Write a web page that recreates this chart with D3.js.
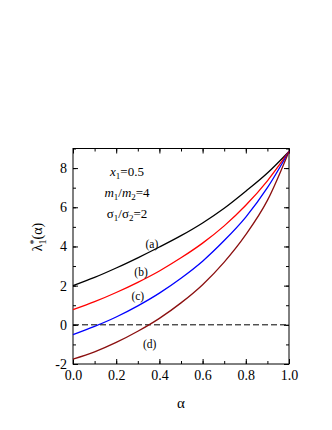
<!DOCTYPE html>
<html>
<head>
<meta charset="utf-8">
<script src="https://cdn.jsdelivr.net/npm/d3@7"></script>
<style>
  body { margin: 0; background: #fff; }
  text { font-family: "Liberation Serif", "DejaVu Serif", serif; fill: #000; }
</style>
</head>
<body>
<div id="chart"></div>
<script>
// data
var alphas = [0, 0.1, 0.2, 0.3, 0.4, 0.5, 0.6, 0.7, 0.8, 0.9, 1.0];
var curveA = [2.0, 2.42, 2.9, 3.42, 3.97, 4.55, 5.2, 5.95, 6.82, 7.75, 8.85];
var curveB = [0.77, 1.18, 1.65, 2.17, 2.75, 3.42, 4.17, 5.05, 6.1, 7.35, 8.85];
var curveC = [-0.5, -0.08, 0.4, 0.97, 1.62, 2.38, 3.25, 4.3, 5.5, 7.0, 8.85];
var curveD = [-1.75, -1.38, -0.9, -0.33, 0.33, 1.12, 2.05, 3.2, 4.6, 6.35, 8.85];
var seriesNames = ['(a)', '(b)', '(c)', '(d)'];
var seriesColors = ['#000000', '#ff0000', '#0000ff', '#8b0f0f'];
var xTicks = [0, 0.2, 0.4, 0.6, 0.8, 1.0];
var yTicks = [-2, 0, 2, 4, 6, 8];

var W = 332, H = 430;
var pLeft = 73, pRight = 289, pTop = 148.5, pBottom = 364;

var svg = d3.select('#chart').append('svg')
  .attr('width', W)
  .attr('height', H);

var x = d3.scaleLinear().domain([0, 1]).range([pLeft, pRight]);
var y = d3.scaleLinear().domain([-2, 9]).range([pBottom, pTop]);

// frame
svg.append('rect')
  .attr('x', pLeft).attr('y', pTop)
  .attr('width', pRight - pLeft).attr('height', pBottom - pTop)
  .style('fill', 'none').style('stroke', '#000').style('stroke-width', 1);

// axes, ticks inward
function styleAxis(g) {
  g.select('.domain').remove();
  g.selectAll('line').style('stroke', '#000');
  g.selectAll('text').style('font-size', '14px').style('font-family', '"Liberation Serif", serif');
}

var minorX = d3.range(0, 1.01, 0.1);
var minorY = d3.range(-2, 9.01, 1);

svg.append('g')
  .attr('transform', 'translate(0,' + pBottom + ')')
  .call(d3.axisBottom(x).tickValues(xTicks).tickFormat(d3.format('.1f')).tickSize(-5).tickPadding(6))
  .call(styleAxis);
svg.append('g')
  .attr('transform', 'translate(0,' + pBottom + ')')
  .call(d3.axisBottom(x).tickValues(minorX).tickFormat('').tickSize(-3))
  .call(styleAxis);
svg.append('g')
  .attr('transform', 'translate(0,' + pTop + ')')
  .call(d3.axisTop(x).tickValues(xTicks).tickFormat('').tickSize(-5))
  .call(styleAxis);
svg.append('g')
  .attr('transform', 'translate(0,' + pTop + ')')
  .call(d3.axisTop(x).tickValues(minorX).tickFormat('').tickSize(-3))
  .call(styleAxis);

svg.append('g')
  .attr('transform', 'translate(' + pLeft + ',0)')
  .call(d3.axisLeft(y).tickValues(yTicks).tickFormat(function(d){ return String(d); }).tickSize(-5).tickPadding(6))
  .call(styleAxis);
svg.append('g')
  .attr('transform', 'translate(' + pLeft + ',0)')
  .call(d3.axisLeft(y).tickValues(minorY).tickFormat('').tickSize(-3))
  .call(styleAxis);
svg.append('g')
  .attr('transform', 'translate(' + pRight + ',0)')
  .call(d3.axisRight(y).tickValues(yTicks).tickFormat('').tickSize(-5))
  .call(styleAxis);
svg.append('g')
  .attr('transform', 'translate(' + pRight + ',0)')
  .call(d3.axisRight(y).tickValues(minorY).tickFormat('').tickSize(-3))
  .call(styleAxis);

// dashed zero line
svg.append('line')
  .attr('x1', x(0)).attr('x2', x(1))
  .attr('y1', y(0)).attr('y2', y(0))
  .style('stroke', '#000').style('stroke-width', 1)
  .style('stroke-dasharray', '6,3');

// curves
var line = d3.line()
  .x(function(d){ return x(d[0]); })
  .y(function(d){ return y(d[1]); })
  .curve(d3.curveMonotoneX);

[curveA, curveB, curveC, curveD].forEach(function(vals, i){
  var pts = alphas.map(function(a, j){ return [a, vals[j]]; });
  svg.append('path')
    .datum(pts)
    .attr('d', line)
    .style('fill', 'none')
    .style('stroke', seriesColors[i])
    .style('stroke-width', 1.3);
});

// curve labels
var labelPos = [[0.365, 4.05], [0.315, 2.65], [0.3, 1.4], [0.355, -1.05]];
seriesNames.forEach(function(n, i){
  svg.append('text')
    .attr('x', x(labelPos[i][0]))
    .attr('y', y(labelPos[i][1]))
    .attr('text-anchor', 'middle')
    .attr('dominant-baseline', 'middle')
    .style('font-size', '11.5px')
    .text(n);
});

// parameter annotations
var ann = svg.append('g').style('font-size', '13px');
var t1 = ann.append('text').attr('x', 127).attr('y', 176).attr('text-anchor', 'middle');
t1.append('tspan').style('font-style', 'italic').text('x');
t1.append('tspan').attr('dy', 3).style('font-size', '9px').text('1');
t1.append('tspan').attr('dy', -3).text('=0.5');

var t2 = ann.append('text').attr('x', 127).attr('y', 197).attr('text-anchor', 'middle');
t2.append('tspan').style('font-style', 'italic').text('m');
t2.append('tspan').attr('dy', 3).style('font-size', '9px').text('1');
t2.append('tspan').attr('dy', -3).text('/');
t2.append('tspan').style('font-style', 'italic').text('m');
t2.append('tspan').attr('dy', 3).style('font-size', '9px').text('2');
t2.append('tspan').attr('dy', -3).text('=4');

var t3 = ann.append('text').attr('x', 127).attr('y', 218).attr('text-anchor', 'middle');
t3.append('tspan').text('σ');
t3.append('tspan').attr('dy', 3).style('font-size', '9px').text('1');
t3.append('tspan').attr('dy', -3).text('/σ');
t3.append('tspan').attr('dy', 3).style('font-size', '9px').text('2');
t3.append('tspan').attr('dy', -3).text('=2');

// axis titles
svg.append('text')
  .attr('x', 181).attr('y', 408)
  .attr('text-anchor', 'middle')
  .style('font-size', '15px')
  .text('α');

var yl = svg.append('text')
  .attr('transform', 'translate(42,' + 237 + ') rotate(-90)')
  .attr('text-anchor', 'middle')
  .style('font-size', '14px');
yl.append('tspan').text('λ');
yl.append('tspan').attr('dy', -5).style('font-size', '10px').text('*');
yl.append('tspan').attr('dx', -5).attr('dy', 9).style('font-size', '10px').text('1');
yl.append('tspan').attr('dy', -4).text('(α)');
</script>
</body>
</html>
